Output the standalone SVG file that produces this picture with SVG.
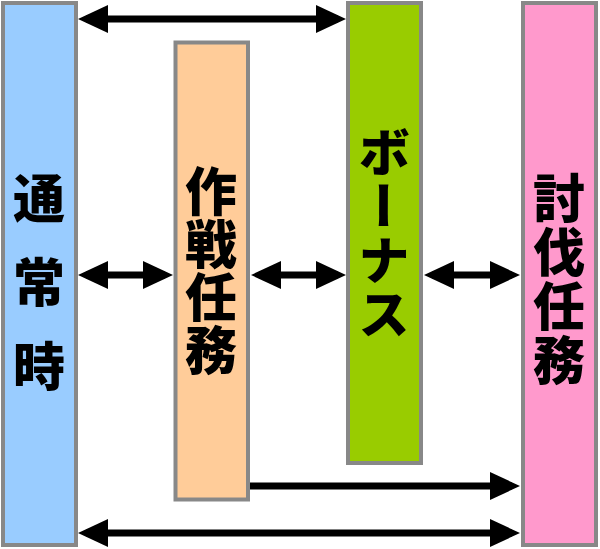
<svg xmlns="http://www.w3.org/2000/svg" width="600" height="549" viewBox="0 0 600 549">
<defs>
<style>
.bar{stroke:#888888;stroke-width:4}
.lbl{font-family:"Noto Sans CJK JP","Noto Sans CJK SC",sans-serif;font-weight:900;font-size:52px;fill:#000;writing-mode:vertical-rl;text-anchor:middle}
.conn{stroke:#000;stroke-width:7;fill:none}
</style>
<marker id="ah" markerUnits="userSpaceOnUse" markerWidth="30" markerHeight="28" refX="22" refY="14" orient="auto-start-reverse" viewBox="0 0 30 28">
<path d="M0,0 L30,14 L0,28 z" fill="#000"/>
</marker>
</defs>
<rect width="600" height="549" fill="#fff"/>
<g id="connectors">
<line class="conn" x1="86" y1="19" x2="338" y2="19" marker-start="url(#ah)" marker-end="url(#ah)"/>
<line class="conn" x1="86" y1="275" x2="165" y2="275" marker-start="url(#ah)" marker-end="url(#ah)"/>
<line class="conn" x1="259" y1="275" x2="338" y2="275" marker-start="url(#ah)" marker-end="url(#ah)"/>
<line class="conn" x1="432" y1="275" x2="512" y2="275" marker-start="url(#ah)" marker-end="url(#ah)"/>
<line class="conn" x1="250" y1="486" x2="512" y2="486" marker-end="url(#ah)"/>
<line class="conn" x1="86" y1="533" x2="512" y2="533" marker-start="url(#ah)" marker-end="url(#ah)"/>
</g>
<g id="node-normal">
<rect class="bar" x="3" y="3" width="73" height="542" fill="#99CCFF"/>
<text class="lbl" x="39" y="298" letter-spacing="32">通常時</text>
</g>
<g id="node-operation">
<rect class="bar" x="175.5" y="42.5" width="72.5" height="457" fill="#FFCC99"/>
<text class="lbl" x="211" y="271" letter-spacing="1">作戦任務</text>
</g>
<g id="node-bonus">
<rect class="bar" x="348" y="3" width="73" height="460" fill="#99CC00"/>
<text class="lbl" x="384" y="234" letter-spacing="2">ボーナス</text>
</g>
<g id="node-subjugation">
<rect class="bar" x="523" y="3" width="73" height="542" fill="#FF99CC"/>
<text class="lbl" x="559" y="280" letter-spacing="2">討伐任務</text>
</g>
</svg>
